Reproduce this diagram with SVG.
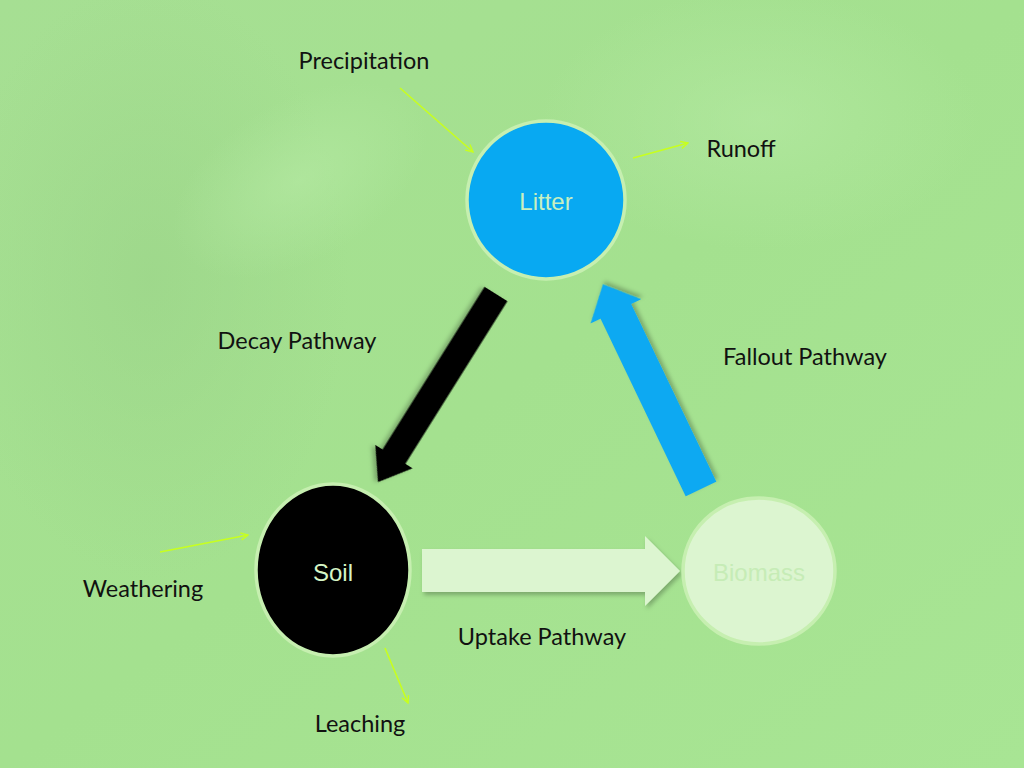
<svg xmlns="http://www.w3.org/2000/svg" width="1024" height="768" viewBox="0 0 1024 768">
<defs>
<style>
.lbl{font-family:Lato,"Open Sans","Liberation Sans",sans-serif;font-size:23.5px;fill:#111;text-anchor:middle;}
.nl{font-family:"Liberation Sans",Arial,sans-serif;font-size:24px;text-anchor:middle;dominant-baseline:central;}
.thin{stroke:#c8ff1e;stroke-width:1.6;fill:none;marker-end:url(#ah);}
.ring{stroke:#c6efb0;stroke-width:3.5;}
</style>
<marker id="ah" viewBox="0 0 10 10" refX="9" refY="5" markerWidth="9" markerHeight="9" markerUnits="userSpaceOnUse" orient="auto">
<path d="M1,1 L9,5 L1,9" fill="none" stroke="#c8ff1e" stroke-width="1.6"/>
</marker>
<linearGradient id="bg" x1="0" y1="0" x2="1" y2="1">
<stop offset="0" stop-color="#a6df93"/>
<stop offset="0.5" stop-color="#a4e18f"/>
<stop offset="1" stop-color="#a8e594"/>
</linearGradient>
<radialGradient id="leaf" cx="0.5" cy="0.5" r="0.5">
<stop offset="0" stop-color="#98d086" stop-opacity="0.5"/>
<stop offset="1" stop-color="#98d086" stop-opacity="0"/>
</radialGradient>
<radialGradient id="lite" cx="0.5" cy="0.5" r="0.5">
<stop offset="0" stop-color="#b6eaa4" stop-opacity="0.6"/>
<stop offset="1" stop-color="#b6eaa4" stop-opacity="0"/>
</radialGradient>
<filter id="sh" x="-20%" y="-20%" width="140%" height="140%">
<feDropShadow dx="2" dy="3" stdDeviation="2" flood-color="#000" flood-opacity="0.25"/>
</filter>
</defs>
<rect width="1024" height="768" fill="url(#bg)"/>
<ellipse cx="150" cy="280" rx="200" ry="300" fill="url(#leaf)"/>
<ellipse cx="760" cy="120" rx="220" ry="130" fill="url(#lite)"/>
<ellipse cx="300" cy="180" rx="140" ry="80" fill="url(#lite)" transform="rotate(-30 300 180)"/>

<g id="connectors">
<g id="decay" filter="url(#sh)" transform="translate(496,294) rotate(122.1)">
<polygon points="0,-13.5 192,-13.5 192,-22 222,0 192,22 192,13.5 0,13.5" fill="#000"/>
</g>
<g id="fallout" filter="url(#sh)" transform="translate(701,489) rotate(-115.6)">
<polygon points="0,-17 197,-17 197,-28 227,0 197,28 197,17 0,17" fill="#08a9f2"/>
</g>
<g id="uptake" filter="url(#sh)">
<polygon points="422,549 645,549 645,536 680,571 645,606 645,592 422,592" fill="#dcf5d0"/>
</g>
<line class="thin" x1="400" y1="88" x2="473" y2="152"/>
<line class="thin" x1="633" y1="158" x2="688" y2="143"/>
<line class="thin" x1="160" y1="552" x2="248" y2="535"/>
<line class="thin" x1="385" y1="648" x2="408" y2="703"/>
</g>

<g id="litter">
<circle class="ring" cx="546" cy="200" r="79" fill="#08a9f2"/>
<text class="nl" x="546" y="201" fill="#c8f0c0">Litter</text>
</g>
<g id="soil">
<ellipse class="ring" cx="333" cy="570" rx="77" ry="86" fill="#000"/>
<text class="nl" x="333" y="572" fill="#d6f5c6">Soil</text>
</g>
<g id="biomass">
<ellipse class="ring" cx="759" cy="571" rx="76" ry="73" fill="#dcf5d0"/>
<text class="nl" x="759" y="572" fill="#c6ecb6">Biomass</text>
</g>

<g id="labels">
<text class="lbl" x="364" y="69">Precipitation</text>
<text class="lbl" x="741" y="157">Runoff</text>
<text class="lbl" x="297" y="349">Decay Pathway</text>
<text class="lbl" x="805" y="365">Fallout Pathway</text>
<text class="lbl" x="143" y="597">Weathering</text>
<text class="lbl" x="542" y="645">Uptake Pathway</text>
<text class="lbl" x="360" y="732">Leaching</text>
</g>
</svg>
